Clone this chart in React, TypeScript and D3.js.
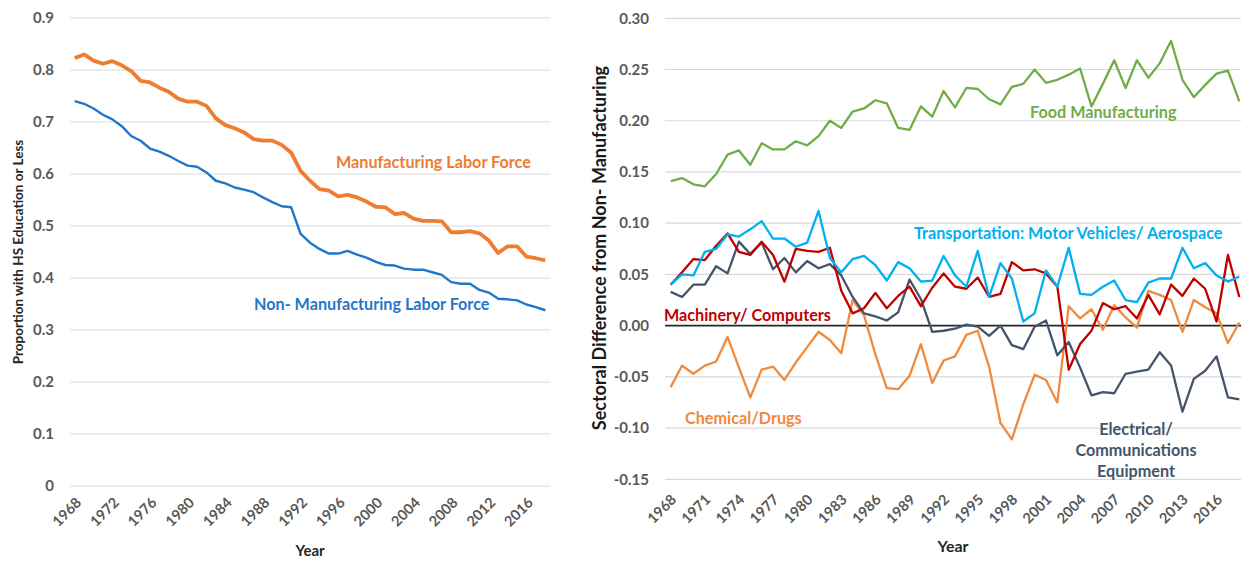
import React from 'react'
import * as d3 from 'd3'

// years 1968..2018
const years: number[] = d3.range(1968, 2019)

// left panel: share with HS education or less
const manufacturing = [
	0.823, 0.83, 0.818, 0.812, 0.817, 0.809, 0.798, 0.779, 0.776, 0.766,
	0.758, 0.745, 0.739, 0.739, 0.731, 0.707, 0.694, 0.688, 0.68, 0.667,
	0.664, 0.664, 0.656, 0.641, 0.606, 0.587, 0.571, 0.568, 0.557, 0.56,
	0.555, 0.547, 0.537, 0.536, 0.523, 0.525, 0.514, 0.51, 0.51, 0.509,
	0.488, 0.488, 0.49, 0.486, 0.472, 0.448, 0.461, 0.461, 0.441, 0.438,
	0.434,
]
const nonManufacturing = [
	0.74, 0.735, 0.726, 0.714, 0.705, 0.692, 0.673, 0.664, 0.649, 0.643,
	0.635, 0.625, 0.616, 0.614, 0.603, 0.587, 0.582, 0.574, 0.57, 0.565,
	0.555, 0.546, 0.538, 0.536, 0.485, 0.468, 0.456, 0.447, 0.447, 0.452,
	0.445, 0.439, 0.431, 0.425, 0.424, 0.418, 0.416, 0.416, 0.411, 0.406,
	0.392, 0.389, 0.389, 0.377, 0.372, 0.36, 0.359, 0.357, 0.349, 0.344,
	0.338,
]

// right panel: sector minus non-manufacturing
const food = [
	0.141, 0.144, 0.138, 0.136, 0.148, 0.167, 0.171, 0.157, 0.178, 0.172,
	0.172, 0.18, 0.176, 0.185, 0.2, 0.193, 0.209, 0.212, 0.22, 0.217,
	0.193, 0.191, 0.214, 0.204, 0.229, 0.213, 0.232, 0.231, 0.221, 0.216,
	0.233, 0.236, 0.25, 0.237, 0.24, 0.245, 0.251, 0.214, 0.236, 0.259,
	0.232, 0.259, 0.242, 0.256, 0.278, 0.24, 0.223, 0.235, 0.246, 0.249,
	0.219,
]
const transport = [
	0.04, 0.05, 0.049, 0.072, 0.075, 0.089, 0.087, 0.094, 0.102, 0.085,
	0.085, 0.077, 0.081, 0.112, 0.066, 0.052, 0.065, 0.068, 0.059, 0.044,
	0.062, 0.056, 0.043, 0.044, 0.068, 0.049, 0.038, 0.073, 0.028, 0.061,
	0.046, 0.004, 0.012, 0.054, 0.038, 0.076, 0.031, 0.03, 0.038, 0.044,
	0.025, 0.023, 0.042, 0.046, 0.046, 0.076, 0.056, 0.061, 0.049, 0.043,
	0.048,
]
const machinery = [
	0.04, 0.052, 0.065, 0.064, 0.078, 0.09, 0.072, 0.069, 0.082, 0.069,
	0.043, 0.075, 0.073, 0.072, 0.076, 0.034, 0.012, 0.017, 0.032, 0.017,
	0.029, 0.038, 0.019, 0.037, 0.051, 0.038, 0.036, 0.047, 0.028, 0.031,
	0.062, 0.054, 0.055, 0.051, 0.038, -0.043, -0.018, -0.005, 0.022, 0.016,
	0.019, 0.007, 0.03, 0.011, 0.04, 0.029, 0.046, 0.036, 0.004, 0.069,
	0.028,
]
const chemical = [
	-0.06, -0.039, -0.047, -0.039, -0.035, -0.011, -0.041, -0.07, -0.043, -0.04,
	-0.053, -0.036, -0.021, -0.006, -0.014, -0.027, 0.025, 0.01, -0.028, -0.061,
	-0.062, -0.049, -0.018, -0.056, -0.034, -0.03, -0.009, -0.005, -0.04, -0.095,
	-0.111, -0.077, -0.048, -0.053, -0.075, 0.019, 0.007, 0.016, -0.004, 0.02,
	0.008, -0.002, 0.034, 0.03, 0.025, -0.006, 0.025, 0.018, 0.012, -0.017,
	0.003,
]
const electrical = [
	0.033, 0.028, 0.04, 0.04, 0.058, 0.051, 0.082, 0.07, 0.081, 0.055,
	0.066, 0.052, 0.063, 0.056, 0.06, 0.049, 0.028, 0.012, 0.009, 0.005,
	0.013, 0.045, 0.026, -0.006, -0.005, -0.003, 0.001, -0.001, -0.01, 0.0,
	-0.019, -0.023, -0.001, 0.005, -0.029, -0.016, -0.041, -0.068, -0.065, -0.066,
	-0.047, -0.045, -0.043, -0.026, -0.039, -0.084, -0.052, -0.044, -0.03, -0.07,
	-0.072,
]

const leftTicks = [0, 0.1, 0.2, 0.3, 0.4, 0.5, 0.6, 0.7, 0.8, 0.9]
const rightTicks = [-0.15, -0.1, -0.05, 0, 0.05, 0.1, 0.15, 0.2, 0.25, 0.3]
const leftYearLabels = [1968, 1972, 1976, 1980, 1984, 1988, 1992, 1996, 2000, 2004, 2008, 2012, 2016]
const rightYearLabels = [1968, 1971, 1974, 1977, 1980, 1983, 1986, 1989, 1992, 1995, 1998, 2001, 2004, 2007, 2010, 2013, 2016]

const FONT = 'Lato, "Open Sans", sans-serif'
const TICK = '#595959'
const ANN = 16.2

export default function App() {
	// left chart scales
	const xL = d3.scalePoint<number>().domain(years).range([70, 550]).padding(0.5)
	const yL = d3.scaleLinear().domain([0, 0.9]).range([486, 18])
	// right chart scales
	const xR = d3.scalePoint<number>().domain(years).range([665, 1245]).padding(0.5)
	const yR = d3.scaleLinear().domain([-0.15, 0.3]).range([479.3, 18.3])

	const lineL = d3
		.line<number>()
		.x((_, i) => xL(years[i]) as number)
		.y((d) => yL(d))
	const lineR = d3
		.line<number>()
		.x((_, i) => xR(years[i]) as number)
		.y((d) => yR(d))

	const rightSeries = [
		{ data: chemical, color: '#F08A3C' },
		{ data: electrical, color: '#44546A' },
		{ data: machinery, color: '#C00000' },
		{ data: transport, color: '#00B0F0' },
		{ data: food, color: '#70AD47' },
	]

	return (
		<svg
			width={1241}
			height={561}
			style={{ position: 'absolute', left: 0, top: 0, background: '#fff' }}
			fontFamily={FONT}
		>
			{/* ---- left chart ---- */}
			{leftTicks.map((t) => (
				<g key={'lg' + t}>
					<line x1={70} x2={550} y1={yL(t)} y2={yL(t)} stroke="#D9D9D9" strokeWidth={1.2} />
					<text x={54} y={yL(t)} dy="0.35em" textAnchor="end" fontSize={15} fontWeight="bold" fill={TICK}>
						{t === 0 ? '0' : d3.format('.1f')(t)}
					</text>
				</g>
			))}
			{leftYearLabels.map((yr) => (
				<text
					key={'lx' + yr}
					transform={`translate(${(xL(yr) as number) + 4},${500}) rotate(-45)`}
					textAnchor="end"
					dy="0.35em"
					fontSize={14.5}
					fontWeight="bold"
					fill={TICK}
				>
					{yr}
				</text>
			))}
			<path d={lineL(manufacturing) || ''} fill="none" stroke="#ED7D31" strokeWidth={3.8} strokeLinejoin="round" />
			<path d={lineL(nonManufacturing) || ''} fill="none" stroke="#1F77C9" strokeWidth={2.4} strokeLinejoin="round" />
			<text x={336} y={162} dy="0.35em" fontSize={ANN} fontWeight="bold" fill="#ED7D31">
				Manufacturing Labor Force
			</text>
			<text x={254} y={304} dy="0.35em" fontSize={ANN} fontWeight="bold" fill="#1F77C9">
				Non- Manufacturing Labor Force
			</text>
			<text x={310} y={551} dy="0.35em" textAnchor="middle" fontSize={15} fontWeight="bold" fill="#262626">
				Year
			</text>
			<text
				transform="translate(18,252) rotate(-90)"
				dy="0.35em"
				textAnchor="middle"
				fontSize={13.5}
				fontWeight="bold"
				fill="#262626"
			>
				Proportion with HS Education or Less
			</text>

			{/* ---- right chart ---- */}
			{rightTicks.map((t) => (
				<g key={'rg' + t}>
					{t !== 0 && (
						<line x1={665} x2={1245} y1={yR(t)} y2={yR(t)} stroke="#D9D9D9" strokeWidth={1.2} />
					)}
					<text x={649} y={yR(t)} dy="0.35em" textAnchor="end" fontSize={15} fontWeight="bold" fill={TICK}>
						{d3.format('.2f')(t).replace('−', '-')}
					</text>
				</g>
			))}
			<line x1={665} x2={1245} y1={yR(0)} y2={yR(0)} stroke="#262626" strokeWidth={1.6} />
			{rightYearLabels.map((yr) => (
				<text
					key={'rx' + yr}
					transform={`translate(${(xR(yr) as number) + 3},${497}) rotate(-45)`}
					textAnchor="end"
					dy="0.35em"
					fontSize={14.5}
					fontWeight="bold"
					fill={TICK}
				>
					{yr}
				</text>
			))}
			{rightSeries.map((s) => (
				<path
					key={s.color}
					d={lineR(s.data) || ''}
					fill="none"
					stroke={s.color}
					strokeWidth={2.3}
					strokeLinejoin="round"
				/>
			))}
			<text x={1030} y={112} dy="0.35em" fontSize={ANN} fontWeight="bold" fill="#70AD47">
				Food Manufacturing
			</text>
			<text x={914} y={233} dy="0.35em" fontSize={ANN} fontWeight="bold" fill="#00B0F0">
				Transportation: Motor Vehicles/ Aerospace
			</text>
			<text x={664} y={315} dy="0.35em" fontSize={ANN} fontWeight="bold" fill="#C00000">
				Machinery/ Computers
			</text>
			<text x={685} y={418} dy="0.35em" fontSize={ANN} fontWeight="bold" fill="#F08A3C">
				Chemical/Drugs
			</text>
			{['Electrical/', 'Communications', 'Equipment'].map((s, i) => (
				<text
					key={s}
					x={1136}
					y={429 + i * 21}
					dy="0.35em"
					textAnchor="middle"
					fontSize={ANN}
					fontWeight="bold"
					fill="#44546A"
				>
					{s}
				</text>
			))}
			<text x={953} y={546} dy="0.35em" textAnchor="middle" fontSize={16} fontWeight="bold" fill="#262626">
				Year
			</text>
			<text
				transform="translate(600,248) rotate(-90)"
				dy="0.35em"
				textAnchor="middle"
				fontSize={18}
				fontWeight="bold"
				fill="#1a1a1a"
			>
				Sectoral Difference from Non- Manufacturing
			</text>
		</svg>
	)
}
